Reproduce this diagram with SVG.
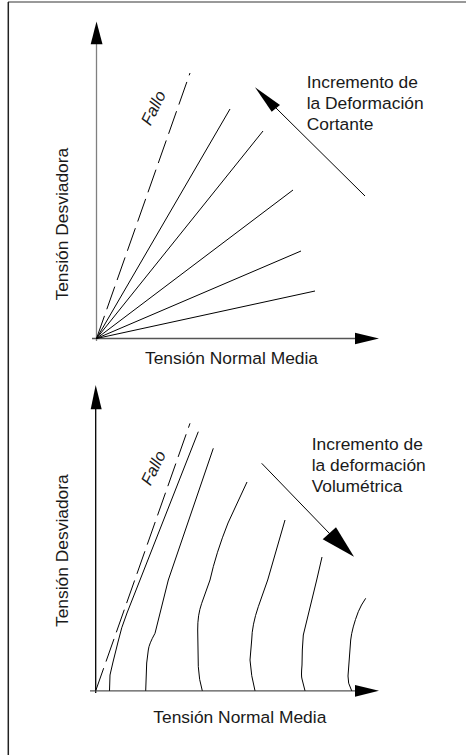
<svg xmlns="http://www.w3.org/2000/svg" width="466" height="755" viewBox="0 0 466 755">
<style>
.t{font-family:"Liberation Sans",Arial,sans-serif;font-size:17.4px;fill:#1a1a1a}
.f{font-family:"Liberation Sans",Arial,sans-serif;font-size:16.5px;font-style:italic;fill:#1a1a1a}
.l{fill:none;stroke:#000;stroke-width:1}
.d{fill:none;stroke:#000;stroke-width:1;stroke-dasharray:24 7}
.ax{fill:none;stroke:#555;stroke-width:1.3}
.axg{fill:none;stroke:#808080;stroke-width:1.3}
.h{fill:#000;stroke:none}
</style>
<rect width="466" height="755" fill="#fff"/>
<g id="frame">
<line x1="8" y1="2" x2="466" y2="2" stroke="#777" stroke-width="1.5"/>
<line x1="8.3" y1="2" x2="8.3" y2="755" stroke="#222" stroke-width="1.5"/>
</g>
<g id="top-chart">
<g id="top-axes">
<line class="axg" x1="96.5" y1="40" x2="96.5" y2="341"/>
<polygon class="h" points="96.5,21.5 90.7,44.3 102.5,44.3"/>
<line class="ax" x1="92" y1="338.5" x2="358" y2="338.5"/>
<polygon class="h" points="379,338.5 355,332.7 355,344.3"/>
</g>
<g id="top-lines">
<line class="d" x1="96.5" y1="338.5" x2="190" y2="73"/>
<line class="l" x1="96.5" y1="338.5" x2="230" y2="109"/>
<line class="l" x1="96.5" y1="338.5" x2="263" y2="131"/>
<line class="l" x1="96.5" y1="338.5" x2="293" y2="190"/>
<line class="l" x1="96.5" y1="338.5" x2="301" y2="251"/>
<line class="l" x1="96.5" y1="338.5" x2="315" y2="291"/>
</g>
<g id="top-arrow">
<line class="l" x1="365" y1="196" x2="276" y2="108"/>
<polygon class="h" points="255,87.3 271.7,111.7 280,105"/>
</g>
<g id="top-labels">
<text class="f" transform="translate(150.5,126.5) rotate(-64)">Fallo</text>
<text class="t" x="306.7" y="88.3">Incremento de</text>
<text class="t" x="306.7" y="109">la Deformación</text>
<text class="t" x="306.7" y="129.5">Cortante</text>
<text class="t" x="145" y="364.3">Tensión Normal Media</text>
<text class="t" transform="translate(67.5,300.5) rotate(-90)">Tensión Desviadora</text>
</g>
</g>
<g id="bottom-chart">
<g id="bottom-axes">
<line x1="95.7" y1="405" x2="95.7" y2="693" stroke="#000" stroke-width="1.3"/>
<polygon class="h" points="95.7,385 90.7,409.3 101.7,409.3"/>
<line class="ax" x1="90" y1="690.8" x2="358" y2="690.8"/>
<polygon class="h" points="379,690.8 355,685 355,696.7"/>
</g>
<g id="bottom-curves">
<line class="d" x1="95.7" y1="690.8" x2="190" y2="423.3"/>
<path class="l" d="M198.3,431.7 L140,580 L127,613 Q121,628 118,642 L113,662 L110,675 L109.5,690.8"/>
<path class="l" d="M213.3,448.3 L168.3,580 L155,633.3 Q149,644 148.3,650 L146.7,663 L145.7,690.8"/>
<path class="l" d="M247,482 L228,523 Q216,553 210,580 L201.7,603.3 Q197.5,615 197.7,630 L198.3,666.7 Q199,680 202.3,690.8"/>
<path class="l" d="M285,520 L267.7,580 L258.3,606.7 Q252,625 251.7,640 L250,660 Q251,676 255,690.8"/>
<path class="l" d="M322,557 L316.7,580 L303.3,635 Q302,650 302,665 Q301,676 302,679 L305,690.8"/>
<path class="l" d="M365.7,598.3 Q361,605 358.3,611.7 Q352,628 350.7,640 L348,676 Q347.5,683 351.7,690.8"/>
</g>
<g id="bottom-arrow">
<line class="l" x1="261.7" y1="463.3" x2="330" y2="534"/>
<polygon class="h" points="354,556.7 322.7,539.3 336,527.3"/>
</g>
<g id="bottom-labels">
<text class="f" transform="translate(150.5,486.5) rotate(-64)">Fallo</text>
<text class="t" x="311.7" y="450">Incremento de</text>
<text class="t" x="311.7" y="470.7">la deformación</text>
<text class="t" x="311.7" y="491.5">Volumétrica</text>
<text class="t" x="153.3" y="723.3">Tensión Normal Media</text>
<text class="t" transform="translate(67.5,627) rotate(-90)">Tensión Desviadora</text>
</g>
</g>
</svg>
